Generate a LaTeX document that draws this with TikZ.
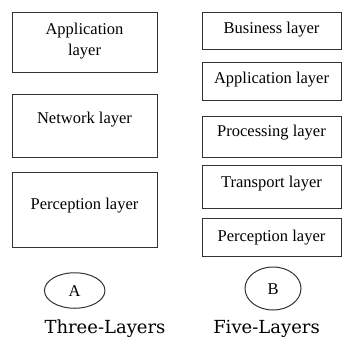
\documentclass[tikz,border=0pt]{standalone}
\usepackage{fontspec}
\setmainfont{Liberation Serif}
\newfontfamily\capfont{DejaVu Serif}
\usetikzlibrary{shapes.geometric}
\begin{document}
\begin{tikzpicture}[x=1pt,y=-1pt,
  layerbox/.style={draw=black!80,line width=1pt,inner sep=0pt},
  layertext/.style={font=\fontsize{16.5}{19}\selectfont,inner sep=0pt,anchor=base,align=center},
  oval/.style={draw=black!80,line width=1pt,ellipse,inner sep=0pt},
  captext/.style={font=\capfont\fontsize{18}{21}\selectfont,inner sep=0pt,anchor=base}]
\useasboundingbox (0,0) rectangle (342,338);
% left column
\node[layerbox,minimum width=145pt,minimum height=60pt] (L1) at (84.5,42) {};
\node[layerbox,minimum width=145pt,minimum height=63pt] (L2) at (84.5,125.5) {};
\node[layerbox,minimum width=145pt,minimum height=75pt] (L3) at (84.5,209.5) {};
\node[layertext] (t1) at (84.5,55) {Application\\[2pt]layer};
\node[layertext] (t2) at (84.5,123) {Network layer};
\node[layertext] (t3) at (84.5,209) {Perception layer};
% right column
\node[layerbox,minimum width=139pt,minimum height=37pt] (R1) at (271.5,30.5) {};
\node[layerbox,minimum width=139pt,minimum height=38pt] (R2) at (271.5,81) {};
\node[layerbox,minimum width=139pt,minimum height=41pt] (R3) at (271.5,136.5) {};
\node[layerbox,minimum width=139pt,minimum height=43pt] (R4) at (271.5,186.5) {};
\node[layerbox,minimum width=139pt,minimum height=38pt] (R5) at (271.5,237) {};
\node[layertext] (s1) at (271.5,33) {Business layer};
\node[layertext] (s2) at (271.5,83) {Application layer};
\node[layertext] (s3) at (271.5,136) {Processing layer};
\node[layertext] (s4) at (271.5,187) {Transport layer};
\node[layertext] (s5) at (271.5,241) {Perception layer};
% ovals
\node[oval,minimum width=60.5pt,minimum height=35.5pt] (A) at (74.7,290.5) {};
\node[layertext] (Al) at (74.7,296) {A};
\node[oval,minimum width=56pt,minimum height=43pt] (B) at (273,288.5) {};
\node[layertext] (Bl) at (273,294) {B};
% captions
\node[captext] (c1) at (105,333.5) {Three-Layers};
\node[captext] (c2) at (266.5,333.5) {Five-Layers};
\end{tikzpicture}
\end{document}
